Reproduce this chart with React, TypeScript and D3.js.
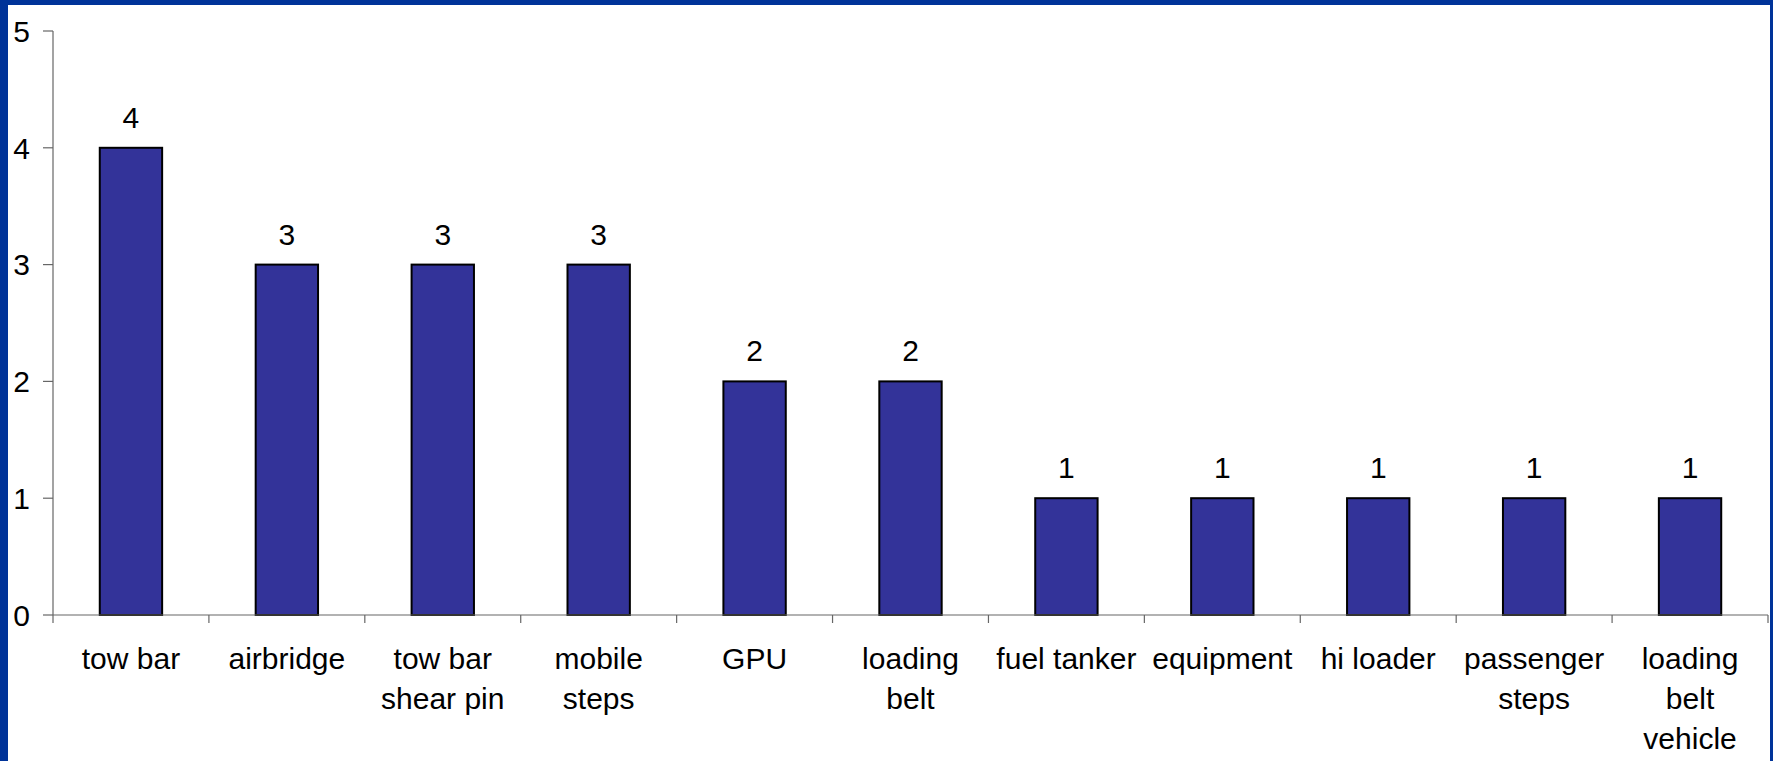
import React from 'react';
import * as d3 from 'd3';

const categories = [
  'tow bar', 'airbridge', 'tow bar shear pin', 'mobile steps', 'GPU', 'loading belt',
  'fuel tanker', 'equipment', 'hi loader', 'passenger steps', 'loading belt vehicle'
];
const labelLines = [
  ['tow bar'], ['airbridge'], ['tow bar', 'shear pin'], ['mobile', 'steps'], ['GPU'], ['loading', 'belt'],
  ['fuel tanker'], ['equipment'], ['hi loader'], ['passenger', 'steps'], ['loading', 'belt', 'vehicle']
];
const values = [4, 3, 3, 3, 2, 2, 1, 1, 1, 1, 1];
const yTicks = [0, 1, 2, 3, 4, 5];

const W = 1773;
const H = 761;
const FONT = 'Arial, "Liberation Sans", sans-serif';

const App: React.FC = () => {
  const x = d3.scaleBand<string>().domain(categories).range([53, 1768]).padding(0);
  const y = d3.scaleLinear().domain([0, 5]).range([615, 31]);
  const bw = x.bandwidth();
  const barW = bw * 0.4;
  const boundaries = categories.map(c => x(c) as number).concat([x.range()[1]]);

  return (
    <svg width={W} height={H} style={{ position: 'absolute', left: 0, top: 0 }} fontFamily={FONT}>
      <rect x={0} y={0} width={W} height={H} fill="#003399" />
      <rect x={8} y={5} width={W - 11} height={H - 5} fill="#ffffff" />

      {/* y axis */}
      <line x1={53} x2={53} y1={y(5)} y2={y(0)} stroke="#666" strokeWidth={1.2} />
      {yTicks.map(t => (
        <g key={t}>
          <line x1={43} x2={53} y1={y(t)} y2={y(t)} stroke="#666" strokeWidth={1.2} />
          <text x={30} y={y(t)} dy="0.36em" textAnchor="end" fontSize={30} fill="#000">{t}</text>
        </g>
      ))}

      {/* bars */}
      {categories.map((c, i) => {
        const cx = (x(c) as number) + bw / 2;
        return (
          <g key={c}>
            <rect x={cx - barW / 2} y={y(values[i])} width={barW} height={y(0) - y(values[i])}
              fill="#333399" stroke="#000" strokeWidth={2} />
            <text x={cx} y={y(values[i]) - 20} textAnchor="middle" fontSize={30} fill="#000">{values[i]}</text>
          </g>
        );
      })}

      {/* x axis */}
      <line x1={53} x2={x.range()[1]} y1={y(0)} y2={y(0)} stroke="#666" strokeWidth={1.2} />
      {boundaries.map((b, i) => (
        <line key={i} x1={b} x2={b} y1={y(0)} y2={y(0) + 8} stroke="#666" strokeWidth={1.2} />
      ))}
      {categories.map((c, i) => {
        const cx = (x(c) as number) + bw / 2;
        return (
          <text key={c} textAnchor="middle" fontSize={30} fill="#000">
            {labelLines[i].map((ln, j) => (
              <tspan key={j} x={cx} y={669 + j * 40}>{ln}</tspan>
            ))}
          </text>
        );
      })}
    </svg>
  );
};

export default App;
